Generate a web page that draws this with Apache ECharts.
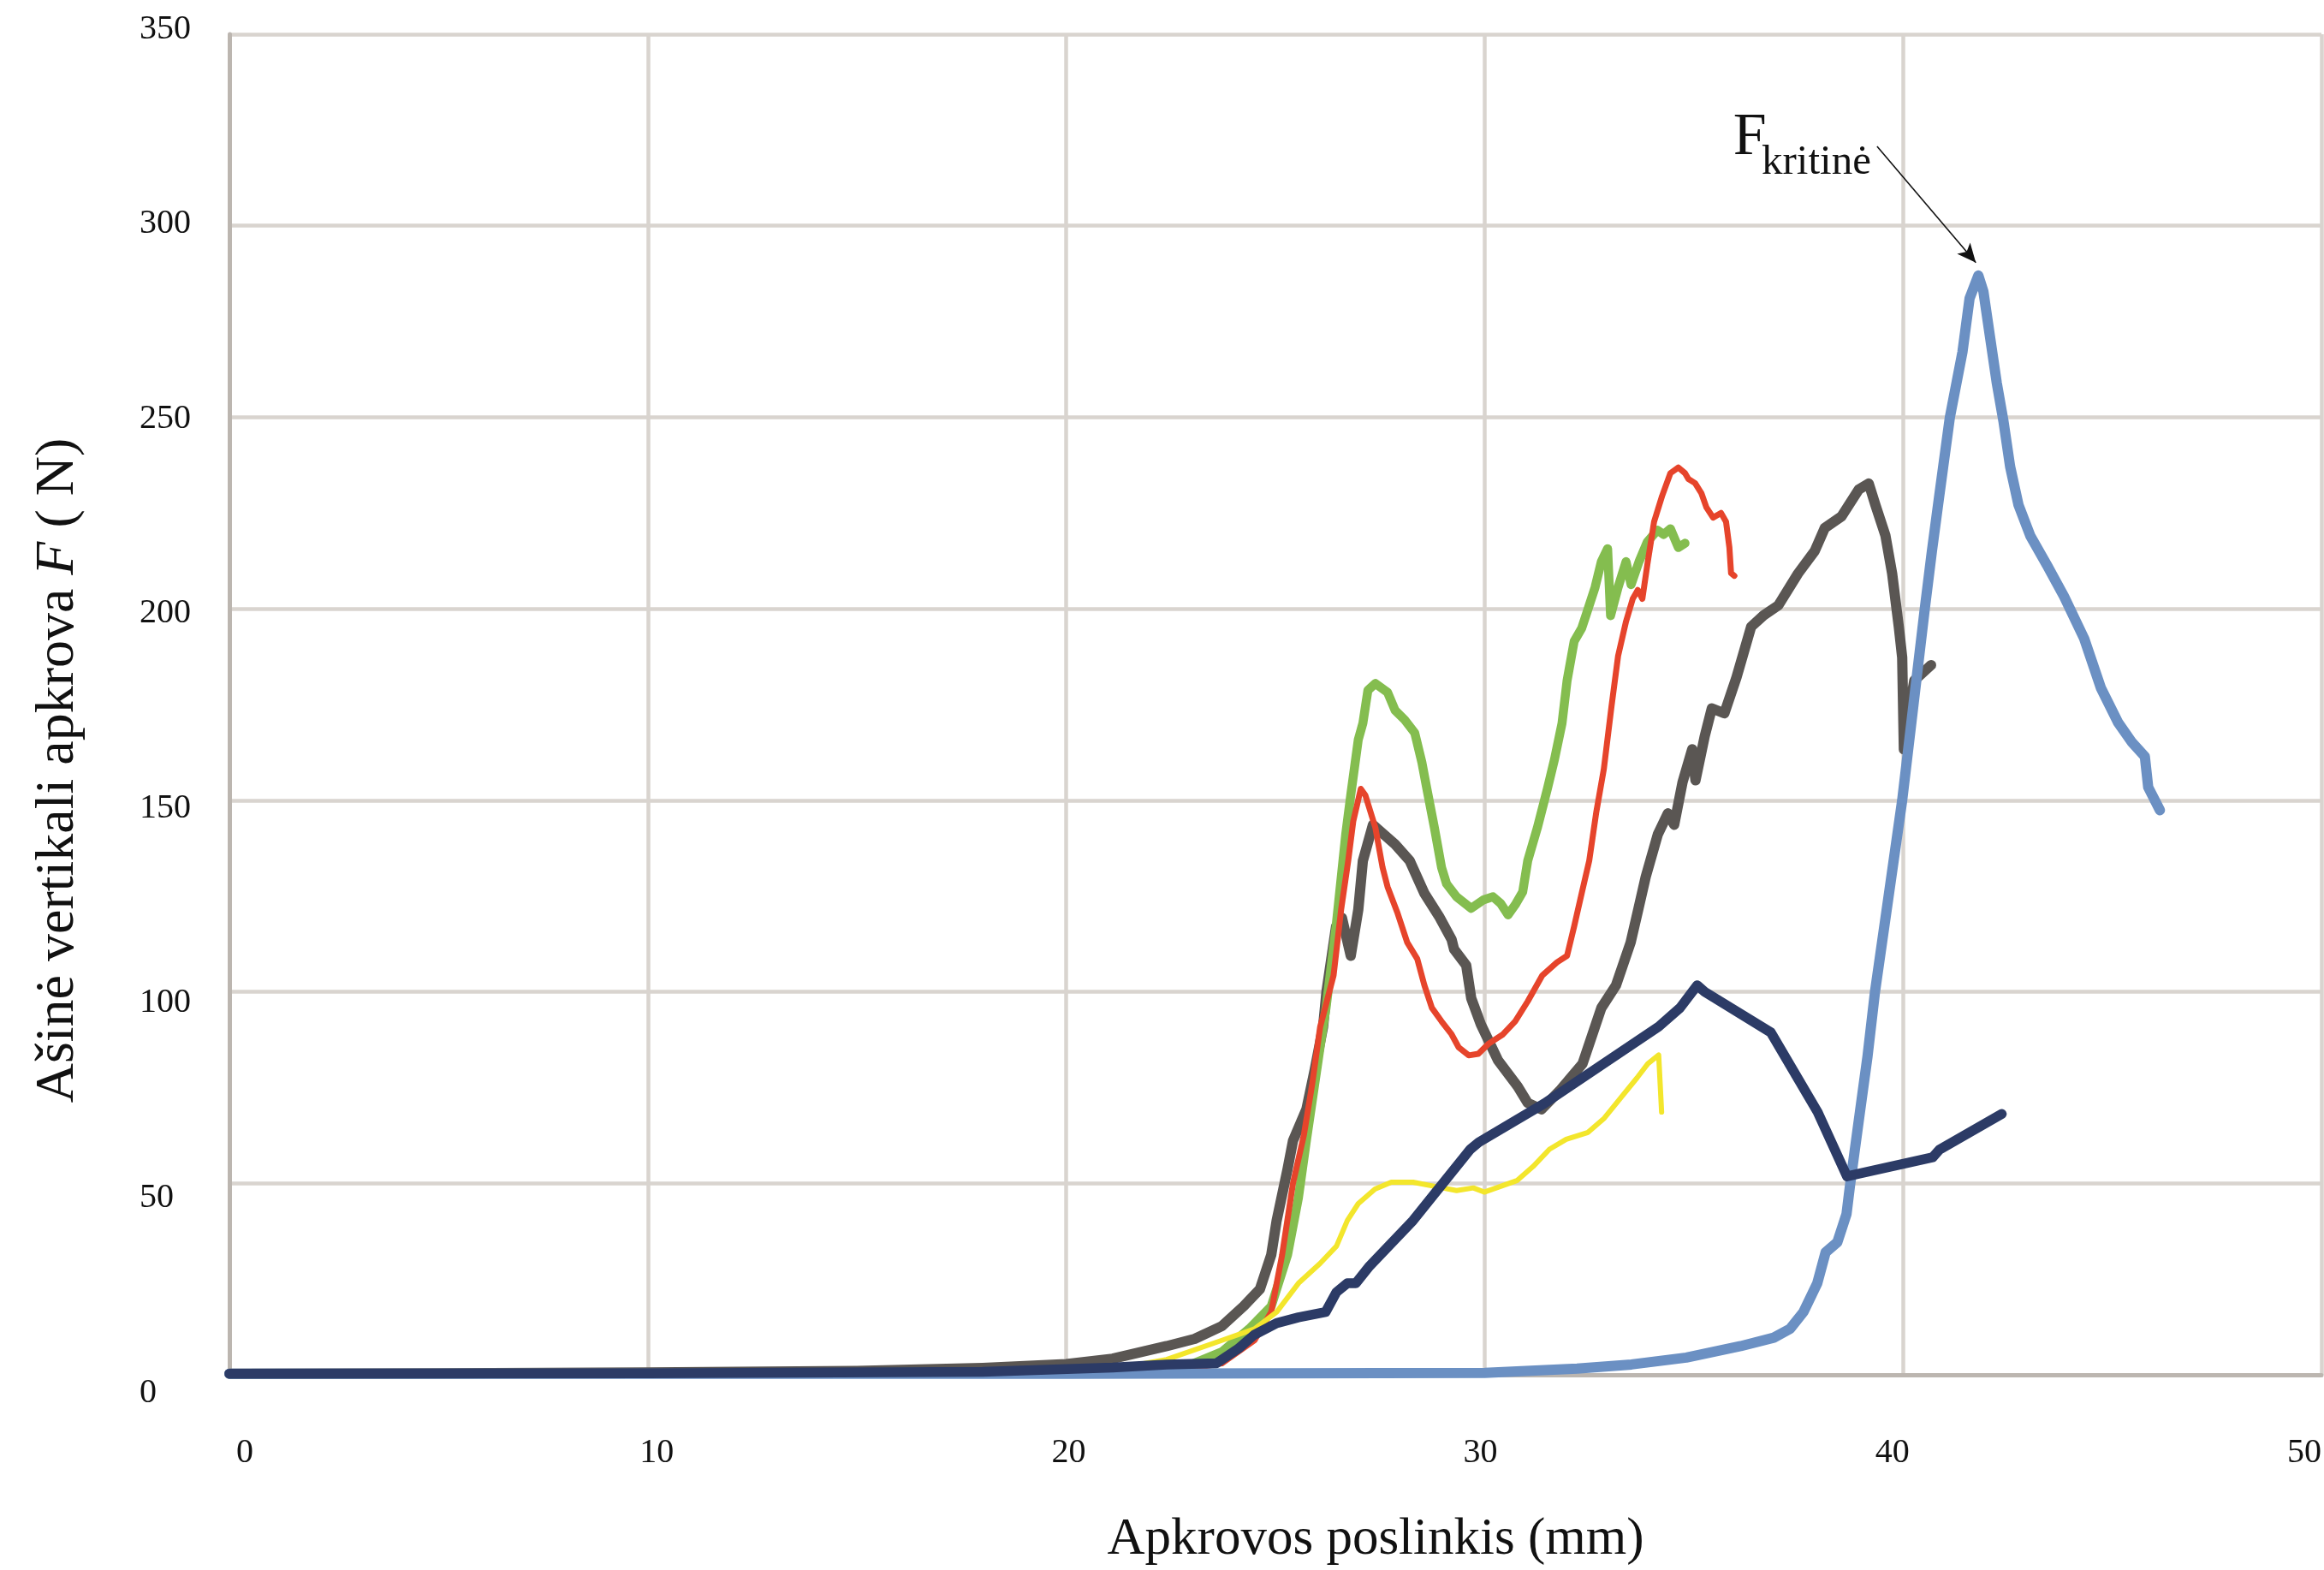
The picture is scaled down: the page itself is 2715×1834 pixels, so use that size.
<!DOCTYPE html>
<html><head><meta charset="utf-8">
<script src="https://cdn.jsdelivr.net/npm/echarts@6/dist/echarts.min.js"></script>
<style>html,body{margin:0;padding:0;background:#fff}#c{width:2715px;height:1834px}</style>
</head><body><div id="c"></div>
<script>
// ---- data (x = displacement mm, y = force N) ----
const xTicks = [0, 10, 20, 30, 40, 50];
const yTicks = [0, 50, 100, 150, 200, 250, 300, 350];
const xTitle = 'Apkrovos poslinkis (mm)';
const yTitleParts = ['Ašinė vertikali apkrova ', 'F', ' ( N)'];

const grayData = [[0,0.3],[5,0.4],[10,0.6],[15,1],[18,1.8],[20,2.8],[21.11,4.2],[22.4,7.5],[23.07,9.4],[23.72,12.7],[24.24,17.9],[24.63,22.4],[24.9,31.3],[25.03,40.3],[25.29,53.7],[25.42,61.1],[25.74,69.3],[25.94,79.7],[26.14,90.9],[26.22,100],[26.45,117.1],[26.59,119.3],[26.8,109.4],[26.98,121.4],[27.09,134.2],[27.33,143.6],[27.86,138.5],[28.21,134.2],[28.56,125.7],[28.91,119.7],[29.21,113.7],[29.27,111.1],[29.56,106.9],[29.68,98.3],[29.91,91.5],[30.32,82.1],[30.79,75.3],[31.03,71],[31.36,69.3],[31.82,74.5],[32.34,81.2],[32.79,95.8],[33.14,101.7],[33.49,112.9],[33.67,121.4],[33.85,130],[34.14,141.1],[34.38,146.6],[34.53,143.6],[34.73,154.7],[34.96,163.3],[35.04,155.2],[35.26,166.7],[35.43,174],[35.73,172.7],[36.02,182.1],[36.37,195.3],[36.67,198.3],[37.02,200.9],[37.49,209.2],[37.89,215.1],[38.13,221.1],[38.53,224.1],[38.94,231.1],[39.18,232.7],[39.34,227.1],[39.58,219.1],[39.74,209.2],[39.9,195.2],[39.98,187.3],[40.02,163.3],[40.14,173.3],[40.27,181.3],[40.67,185.3]];

const greenData = [[0,0.2],[10,0.3],[18,0.8],[21,1.2],[22.8,1.9],[23.72,6],[24.37,12],[24.9,17.9],[25.29,31.3],[25.55,46.2],[25.74,61.1],[25.94,76],[26.14,90.9],[26.21,95.8],[26.45,117.1],[26.68,141.1],[26.8,151.3],[26.98,165.8],[27.09,170.1],[27.21,178.7],[27.39,180.5],[27.68,178.2],[27.86,173.5],[28.09,171],[28.33,167.6],[28.5,159.9],[28.62,153],[28.8,142.8],[28.97,132.5],[29.09,128.2],[29.33,124.8],[29.68,121.8],[29.97,124],[30.2,124.8],[30.38,123.1],[30.56,120.1],[30.73,122.7],[30.91,126.1],[31.03,134.2],[31.26,142.8],[31.5,153],[31.67,160.7],[31.85,170.1],[31.97,181.2],[32.14,191.5],[32.32,194.9],[32.44,198.9],[32.64,205.6],[32.79,212.3],[32.94,215.7],[33.01,198.2],[33.19,205.6],[33.38,212.3],[33.5,206.3],[33.69,212.3],[33.89,217.5],[34.13,220.5],[34.28,219.4],[34.44,220.9],[34.63,216],[34.79,217.1]];

const redData = [[0,0.2],[10,0.3],[18,0.6],[22.4,0.6],[23.72,3],[24.5,9],[24.9,16.4],[25.16,31.3],[25.42,50],[25.68,62.6],[25.88,76],[26.07,90.9],[26.39,104.3],[26.57,121.4],[26.74,134.2],[26.86,144.5],[27.04,153],[27.15,151.3],[27.39,142.8],[27.56,132.5],[27.68,127.4],[27.92,120.5],[28.15,112.9],[28.39,108.6],[28.56,101.7],[28.74,95.8],[28.97,92.3],[29.21,88.9],[29.38,85.5],[29.62,83.4],[29.85,83.8],[30.09,86.4],[30.44,88.9],[30.73,92.3],[31.03,97.5],[31.38,104.3],[31.73,107.7],[31.97,109.4],[32.14,117.1],[32.32,125.7],[32.5,134.2],[32.67,147],[32.85,158.2],[33.03,174.3],[33.19,187.7],[33.38,196.7],[33.54,202.6],[33.66,204.9],[33.77,202.6],[33.89,211.6],[34.05,222.7],[34.24,229.4],[34.44,235.4],[34.63,236.9],[34.79,235.4],[34.87,233.9],[35.03,232.8],[35.18,230.2],[35.3,226.5],[35.46,223.8],[35.65,225],[35.77,222.7],[35.85,216],[35.89,209.3],[35.97,208.6]];

const yellowData = [[0,0.2],[10,0.3],[18,0.8],[21.11,1.5],[22.4,4],[23.72,9],[24.5,12],[25.03,16.4],[25.55,23.9],[26.07,29.1],[26.46,33.6],[26.72,40.3],[26.98,44.7],[27.38,48.5],[27.77,50.3],[28.29,50.3],[28.81,49.2],[29.33,48.1],[29.73,48.8],[29.99,47.7],[30.38,49.2],[30.77,50.7],[31.16,54.4],[31.55,58.9],[31.95,61.5],[32.47,63.3],[32.86,67],[33.25,72.3],[33.64,77.5],[33.9,81.2],[34.16,83.5],[34.23,68.6]];

const navyData = [[0,0.3],[10,0.4],[18,0.8],[21.11,1.9],[22.4,2.7],[23.59,3],[24.11,6.8],[24.5,10.5],[25.03,13.5],[25.55,15],[26.2,16.4],[26.46,21.6],[26.72,23.9],[26.92,23.9],[27.25,28.4],[28.29,40.3],[29.66,58.9],[29.86,60.7],[31.42,70.8],[34.16,90.9],[34.67,95.8],[35.08,101.7],[35.26,100],[36.84,89.4],[37.96,68.6],[38.66,51.8],[40.71,56.8],[40.87,58.8],[42.36,68.1]];

const blueData = [[0,0.3],[10,0.3],[20,0.3],[30,0.5],[32.21,1.6],[33.51,2.7],[34.82,4.5],[36.12,7.5],[36.91,9.7],[37.3,12],[37.62,16.4],[37.95,23.9],[38.15,32],[38.43,34.6],[38.65,42],[38.73,49.2],[38.97,68.6],[39.15,83],[39.33,100],[39.63,123],[39.98,150],[40.25,175],[40.52,200],[40.69,215],[40.86,229],[41.12,250],[41.42,267],[41.59,281],[41.8,287],[41.92,282.9],[42.08,270.9],[42.24,259],[42.4,249],[42.56,237.1],[42.76,227.1],[43.04,219.1],[43.45,211.2],[43.85,203.2],[44.33,192.2],[44.73,179.3],[45.14,170.3],[45.46,165.3],[45.78,161.4],[45.86,153.4],[46.14,147.4]];

// annotation
const annotationMain = 'F';
const annotationSub = 'kritinė';
const annotationMainAt = [35.94, 315.0];
const annotationSubAt = [36.62, 311.0];
const arrowFrom = [39.38, 320.7];
const arrowTo = [41.74, 290.4];

// ---- chart ----
const FONT = '"Liberation Serif", "DejaVu Serif", serif';
const GRID_COLOR = '#d9d4cf';
const AXIS_COLOR = '#bcb6b0';

const chart = echarts.init(document.getElementById('c'), null, {renderer: 'canvas'});

function line(name, data, color, width) {
  return {
    name, type: 'line', data, xAxisIndex: 0, yAxisIndex: 0,
    showSymbol: false, symbol: 'none', smooth: false,
    lineStyle: {color, width, cap: 'round', join: 'round'},
    emphasis: {disabled: true}
  };
}

const blueSeries = line('s6', blueData, '#6b90c3', 12);
blueSeries.markLine = {
  silent: true, animation: false,
  symbol: ['none', 'arrow'], symbolSize: [15, 22],
  lineStyle: {color: '#111', width: 1.6, type: 'solid'},
  label: {show: false},
  emphasis: {disabled: true},
  data: [[{coord: arrowFrom}, {coord: arrowTo}]]
};

const option = {
  animation: false,
  backgroundColor: '#ffffff',
  grid: [
    {left: 268, right: 3, top: 40, bottom: 227},
    {left: 268, right: 3, top: 34, bottom: 207},
    {left: 286, right: 16, top: 40, bottom: 227}
  ],
  xAxis: [
    {
      gridIndex: 0, type: 'value', min: 0, max: 50, interval: 10,
      axisLine: {show: true, onZero: false, lineStyle: {color: AXIS_COLOR, width: 5}},
      axisTick: {show: false}, axisLabel: {show: false},
      splitLine: {show: true, showMinLine: true, showMaxLine: true, lineStyle: {color: GRID_COLOR, width: 4.5}},
      name: xTitle, nameLocation: 'middle', nameGap: 162,
      nameTextStyle: {fontFamily: FONT, fontSize: 61, color: '#111', padding: [0, 0, 0, 234]}
    },
    {gridIndex: 1, type: 'value', min: 0, max: 50, show: false},
    {
      gridIndex: 2, type: 'value', min: 0, max: 50, interval: 10,
      axisLine: {show: false}, axisTick: {show: false}, splitLine: {show: false},
      axisLabel: {show: true, margin: 70, fontFamily: FONT, fontSize: 40, color: '#111',
        formatter: v => xTicks.includes(v) ? String(v) : ''}
    }
  ],
  yAxis: [
    {
      gridIndex: 0, type: 'value', min: 0, max: 350, interval: 50,
      axisLine: {show: true, onZero: false, lineStyle: {color: AXIS_COLOR, width: 5}},
      axisTick: {show: false}, axisLabel: {show: false},
      splitLine: {show: true, showMinLine: true, showMaxLine: true, lineStyle: {color: GRID_COLOR, width: 4.5}},
      name: '{n|' + yTitleParts[0] + '}{i|' + yTitleParts[1] + '}{n|' + yTitleParts[2] + '}',
      nameLocation: 'middle', nameGap: 168, nameRotate: 90,
      nameTextStyle: {
        fontFamily: FONT, fontSize: 64, color: '#111', padding: [0, 154, 0, 0],
        rich: {
          n: {fontFamily: FONT, fontSize: 64, color: '#111'},
          i: {fontFamily: FONT, fontSize: 64, color: '#111', fontStyle: 'italic'}
        }
      }
    },
    {
      gridIndex: 1, type: 'value', min: 0, max: 350, interval: 50,
      axisLine: {show: false}, axisTick: {show: false}, splitLine: {show: false},
      axisLabel: {show: true, margin: 105, align: 'left', fontFamily: FONT, fontSize: 40, color: '#111',
        formatter: v => yTicks.includes(v) ? String(v) : ''}
    },
    {gridIndex: 2, type: 'value', min: 0, max: 350, show: false}
  ],
  series: [
    line('s1', grayData, '#5a5653', 12),
    line('s2', greenData, '#84bd4f', 10.5),
    line('s3', redData, '#e6442b', 7),
    line('s4', yellowData, '#f3e62c', 6),
    blueSeries,
    line('s5', navyData, '#2c3b66', 11.5)
  ]
};
chart.setOption(option);

const pMain = chart.convertToPixel({gridIndex: 0}, annotationMainAt);
const pSub = chart.convertToPixel({gridIndex: 0}, annotationSubAt);
chart.setOption({
  graphic: [
    {type: 'text', x: pMain[0], y: pMain[1], silent: true,
      style: {text: annotationMain, font: '70px ' + FONT, fill: '#111', align: 'left', verticalAlign: 'bottom'}},
    {type: 'text', x: pSub[0], y: pSub[1], silent: true,
      style: {text: annotationSub, font: '49px ' + FONT, fill: '#111', align: 'left', verticalAlign: 'bottom'}}
  ]
});
</script>
</body></html>
